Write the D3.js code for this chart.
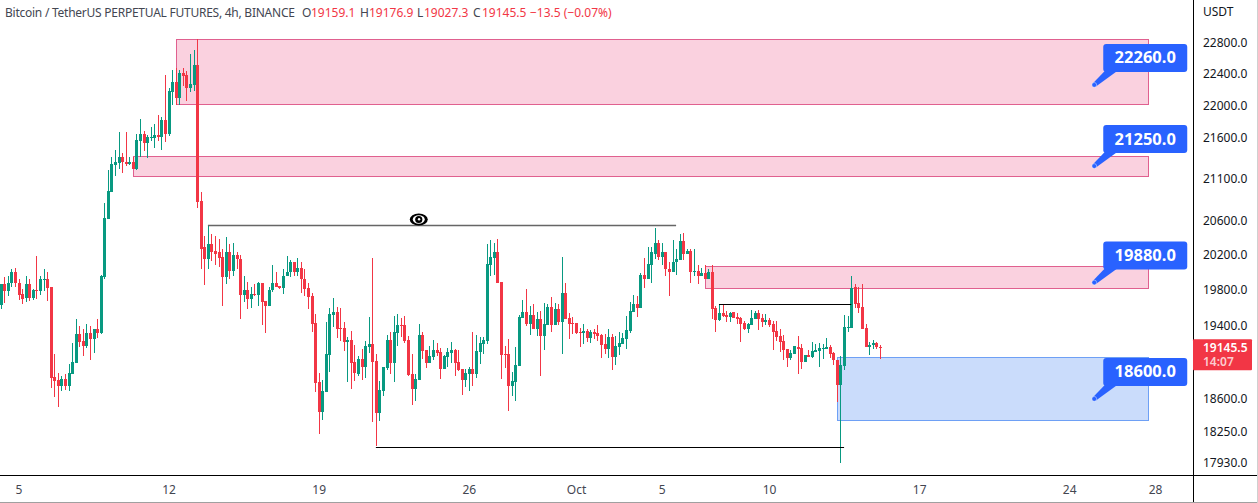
<!DOCTYPE html>
<html><head><meta charset="utf-8">
<script src="https://cdnjs.cloudflare.com/ajax/libs/d3/7.8.5/d3.min.js"></script>
<style>
html,body{margin:0;padding:0;background:#fff;overflow:hidden}
svg{display:block}
text{font-family:"Noto Sans",sans-serif}
</style></head><body>
<svg id="chart" width="1258" height="503"></svg>
<script>
const opens=[19625,19860,19780,19880,20005,19880,19745,19700,19860,19700,19790,19780,19905,19915,19825,18835,18805,18740,18815,18740,18870,18985,19300,19225,19170,19310,19245,19355,19310,19940,20620,20940,21260,21285,21365,21305,21270,21295,21210,21560,21645,21535,21595,21595,21635,21610,21820,21645,22165,22295,22090,22410,22385,22220,22255,22515,20835,20285,20155,20320,20245,20225,20175,19940,20225,20015,20200,20155,19735,19790,19690,19745,19735,19870,19670,19610,19790,19880,19845,19815,19950,19995,20110,19995,20050,19925,19815,19725,19425,18785,18465,18675,19075,19510,19545,19365,19365,19215,19235,18995,18870,19030,18945,19160,19190,19010,18455,18685,18935,19235,18985,19310,19400,19400,19235,18870,18710,18805,19290,19125,18985,19050,19125,19105,18920,19050,19095,19125,18995,18920,18805,18870,18920,18870,19105,19190,19225,20085,20165,20235,19890,19085,19085,18740,18785,18955,19480,19545,19410,19510,19355,19465,19280,19400,19600,19400,19580,19435,19760,19480,19425,19425,19325,19310,19335,19255,19325,19310,19290,19190,19140,19270,19050,19160,19190,19245,19335,19545,19635,19590,19970,19925,20085,20210,20340,20175,20225,20040,19995,20110,20140,20355,20210,20245,20005,20015,19950,19985,19915,19995,19590,19455,19535,19510,19490,19545,19490,19480,19425,19355,19400,19465,19535,19480,19435,19455,19410,19335,19280,19225,19140,19040,19085,19160,19150,19000,19075,19050,19105,19115,19140,19140,19160,19095,19020,18750,18955,19365,19365,19825,19645,19600,19365,19160,19180,19200,19159.1];
const highs=[19860,19938,19960,20030,20050,19915,19805,19950,19915,19805,20190,19950,20030,19995,19825,19085,18880,18845,18870,18975,19200,19465,19390,19355,19410,19390,19355,19465,19970,20810,21200,21365,21450,21670,21405,21670,21365,21365,21645,21830,21680,21635,21730,21770,21880,21855,22385,22220,22450,22475,22450,22475,22440,22655,22710,22850,20940,20420,20540,20435,20420,20385,20260,20400,20320,20330,20225,20200,19950,19890,19835,19860,19890,19870,19670,19835,20075,19995,19845,20030,20190,20140,20120,20165,20110,20030,19880,19760,19525,18880,18805,19435,19590,19700,19600,19590,19435,19270,19335,19180,19060,19140,19225,19490,20165,19085,18795,18945,19290,19325,19500,19525,19480,19500,19280,19085,18870,19410,19325,19125,19170,19235,19200,19150,19075,19150,19215,19140,19125,18920,18920,18945,19325,19290,19270,19270,20320,20375,20340,20385,19890,19170,19245,18890,19160,19510,19680,19805,19610,19635,19545,19555,19645,19635,19715,19645,19635,20175,19880,19535,19490,19425,19365,19410,19355,19345,19355,19400,19300,19300,19355,19300,19280,19325,19310,19500,19655,19735,19725,19985,20165,20285,20285,20505,20365,20340,20235,20110,20365,20260,20445,20455,20260,20260,20270,20075,20050,20075,20030,20075,19610,19635,19635,19555,19545,19545,19535,19490,19445,19425,19565,19555,19565,19525,19525,19480,19445,19445,19355,19290,19140,19125,19170,19280,19190,19075,19125,19215,19190,19200,19190,19255,19180,19105,19020,19060,19510,19500,19960,19860,19825,19860,19410,19215,19235,19215,19176.9];
const lows=[19580,19646,19724,19825,19825,19680,19635,19655,19670,19680,19690,19735,19780,19670,18720,18620,18515,18685,18695,18685,18870,18985,19160,19060,19150,19020,19095,19255,19300,19925,20620,20940,21130,21210,21165,21245,21260,21210,21200,21365,21440,21345,21560,21465,21560,21450,21550,21620,22005,22005,22005,22245,22055,22165,22180,20750,20040,19850,20040,20130,20085,20060,19610,19860,19915,19960,20030,19465,19655,19580,19590,19725,19610,19400,19310,19610,19770,19825,19805,19745,19950,19940,19950,19950,19760,19725,19580,19325,18675,18235,18380,18675,18890,19380,19255,19225,19115,18785,18710,18795,18845,18805,18825,19095,18360,18110,18370,18635,18910,18870,18785,19170,19270,19200,18845,18535,18580,18805,19030,18935,18985,19020,19060,18815,18920,18945,18985,18845,18900,18645,18730,18685,18740,18825,18975,19085,19190,19960,19970,19870,18815,18935,18475,18635,18580,18955,19480,19390,19290,19355,19280,18845,19125,19400,19325,19400,19400,19085,19465,19245,19300,19300,19160,19190,19215,19200,19245,19225,19040,19085,19040,18910,18965,19075,19190,19140,19310,19545,19490,19590,19815,19925,19880,20155,20140,20085,19960,19725,19995,19970,20140,20140,20210,19880,19950,19860,19950,19915,19915,19465,19325,19445,19490,19435,19435,19480,19410,19215,19345,19310,19400,19465,19345,19380,19400,19380,19125,19225,19105,19020,18945,19020,19085,18870,18920,19000,19050,19040,19105,18945,19030,19140,19040,18965,18570,17935,18910,19325,19365,19590,19535,19355,19160,19075,19140,19140,19027.3];
const closes=[19860,19780,19880,20005,19880,19735,19690,19860,19700,19790,19780,19915,19915,19815,18825,18795,18740,18815,18740,18880,19000,19300,19215,19170,19310,19245,19355,19310,19950,20630,20950,21270,21295,21365,21295,21270,21295,21210,21570,21645,21535,21610,21610,21635,21610,21820,21645,22180,22295,22090,22410,22375,22220,22270,22515,20820,20270,20155,20320,20235,20210,20165,19940,20225,20015,20200,20155,19735,19790,19690,19745,19735,19870,19655,19610,19800,19880,19835,19815,19960,20005,20110,19995,20050,19915,19805,19715,19410,18770,18465,18685,19085,19525,19545,19355,19355,19215,19235,18985,18880,19030,18945,19170,19190,19000,18455,18695,18945,19235,18985,19325,19400,19390,19225,18860,18710,18815,19290,19115,18985,19060,19125,19095,18920,19060,19105,19125,18985,18910,18805,18880,18920,18870,19115,19200,19235,20095,20175,20235,19880,19075,19075,18740,18795,18965,19490,19545,19410,19510,19355,19465,19280,19410,19600,19400,19580,19435,19760,19465,19410,19410,19310,19310,19335,19255,19325,19300,19280,19180,19140,19270,19050,19170,19200,19255,19345,19555,19635,19590,19970,19925,20095,20225,20340,20175,20225,20030,19995,20120,20155,20355,20210,20245,20005,20015,19950,19985,19915,19995,19580,19455,19535,19500,19490,19535,19480,19465,19410,19355,19410,19480,19535,19465,19435,19455,19400,19325,19270,19215,19125,19040,19095,19170,19140,19000,19075,19050,19115,19125,19150,19150,19160,19085,19020,18750,18965,19380,19380,19815,19635,19590,19355,19160,19180,19200,19160,19145.5];

const firstBar=Date.UTC(2022,8,4,4);
const barHours=4;
const tickDates=[[2022,8,5],[2022,8,12],[2022,8,19],[2022,8,26],[2022,9,1],[2022,9,5],[2022,9,10],[2022,9,17],[2022,9,24],[2022,9,28]];
const tickLabels=["5","12","19","26","Oct","5","10","17","24","28"];
const priceTicks=[22800,22400,22000,21600,21100,20600,20200,19800,19400,18600,18250,17930];

// zones: first bar, last bar, top price, bottom price
const zoneStart=[49,37,197,234];
const zoneEnd=[321,321,321,321];
const zoneTop=[22846,21367,20074,19052];
const zoneBottom=[22015,21135,19814,18380];
const zoneKind=["supply","supply","supply","demand"];

// horizontal levels: first bar, last bar, price
const levelStart=[58,105,201];
const levelEnd=[189,236,238];
const levelPrice=[20540,18100,19640];
const levelKind=["gray","black","black"];

const calloutPrices=[22260,21250,19880,18600];
const calloutBar=306;

const lastClose=closes[closes.length-1];
const titleText="Bitcoin / TetherUS PERPETUAL FUTURES, 4h, BINANCE";
const headerParts=[["O",302,"#434651"],["19159.1",311,"#f23645"],["H",360,"#434651"],["19176.9",369,"#f23645"],["L",417,"#434651"],["19027.3",424,"#f23645"],["C",473,"#434651"],["19145.5",482,"#f23645"],["\u221213.5 (\u22120.07%)",530,"#f23645"]];

const UP="#089981",DOWN="#f23645";
const W=1258,H=503,paneR=1193,paneB=476;
const svg=d3.select("#chart");

const x=d3.scaleUtc().domain([new Date(Date.UTC(2022,8,5)),new Date(Date.UTC(2022,9,28))]).range([18.5,1155]);
const y=d3.scaleLog().domain([17930,22800]).range([463,43]);
const barX=i=>x(new Date(firstBar+i*barHours*3600e3));

const gZones=svg.append("g");
gZones.selectAll("rect").data(zoneStart).join("rect")
 .attr("x",(d,i)=>Math.round(barX(d))+.5)
 .attr("y",(d,i)=>Math.round(y(zoneTop[i]))+.5)
 .attr("width",(d,i)=>Math.round(barX(zoneEnd[i]))-Math.round(barX(d)))
 .attr("height",(d,i)=>Math.round(y(zoneBottom[i]))-Math.round(y(zoneTop[i])))
 .attr("fill",(d,i)=>zoneKind[i]==="supply"?"#fad1df":"#cadcfb")
 .attr("stroke",(d,i)=>zoneKind[i]==="supply"?"#e0608f":"#6ea0f5")
 .attr("stroke-width",1);

const gCandles=svg.append("g");
const candles=gCandles.selectAll("g").data(opens).join("g")
 .attr("fill",(d,i)=>closes[i]>=d?UP:DOWN);
candles.append("rect")
 .attr("x",(d,i)=>Math.round(barX(i)))
 .attr("y",(d,i)=>Math.round(y(highs[i])))
 .attr("width",1)
 .attr("height",(d,i)=>Math.max(1,Math.round(y(lows[i]))-Math.round(y(highs[i]))));
candles.append("rect")
 .attr("x",(d,i)=>Math.round(barX(i))-1)
 .attr("y",(d,i)=>Math.round(y(Math.max(d,closes[i]))))
 .attr("width",3)
 .attr("height",(d,i)=>Math.max(1,Math.round(y(Math.min(d,closes[i])))-Math.round(y(Math.max(d,closes[i])))));

const gLevels=svg.append("g");
gLevels.selectAll("line").data(levelPrice).join("line")
 .attr("x1",(d,i)=>barX(levelStart[i]))
 .attr("x2",(d,i)=>barX(levelEnd[i]))
 .attr("y1",d=>Math.round(y(d))+.5)
 .attr("y2",d=>Math.round(y(d))+.5)
 .attr("stroke",(d,i)=>levelKind[i]==="gray"?"#666666":"#000")
 .attr("stroke-width",(d,i)=>levelKind[i]==="gray"?1.6:1.2);

// eye marker above the gray level
const eyeX=barX(117),eyeY=y(20610);
svg.append("ellipse").attr("cx",eyeX).attr("cy",eyeY).attr("rx",9).attr("ry",6).attr("fill","#000");
svg.append("ellipse").attr("cx",eyeX).attr("cy",eyeY).attr("rx",6).attr("ry",4.2).attr("fill","#fff");
svg.append("circle").attr("cx",eyeX).attr("cy",eyeY).attr("r",3.6).attr("fill","#000");
svg.append("circle").attr("cx",eyeX+.3).attr("cy",eyeY-.3).attr("r",1.2).attr("fill","#fff");

// callouts
const BLUE="#2962ff";
const callouts=svg.append("g").selectAll("g").data(calloutPrices).join("g")
 .attr("transform",d=>`translate(${barX(calloutBar)},${y(d)})`);
callouts.append("path").attr("d","M10.5,-14 L23,-14 L1,2 L-2,-1 Z").attr("fill",BLUE);
callouts.append("circle").attr("r",2.4).attr("fill",BLUE).attr("stroke","#ffffff").attr("stroke-opacity",.55).attr("stroke-width",.8);
callouts.append("rect").attr("x",9).attr("y",-41).attr("width",84).attr("height",28).attr("rx",3).attr("fill",BLUE);
callouts.append("text").attr("x",51).attr("y",-21.5).attr("text-anchor","middle").attr("fill","#fff")
 .attr("font-size",16.5).attr("font-weight",700).text(d=>d3.format(".1f")(d));

// axes
const xAxis=d3.axisBottom(x).tickValues(tickDates.map(d=>new Date(Date.UTC(...d)))).tickFormat((d,i)=>tickLabels[i]).tickSize(0).tickPadding(0);
const gx=svg.append("g").attr("transform",`translate(0,${paneB})`).call(xAxis);
gx.select(".domain").remove();
gx.selectAll("text").attr("y",0).attr("dy","17.5px").attr("fill","#434651").attr("font-size",12).attr("font-family",'"Noto Sans",sans-serif');

const yAxis=d3.axisRight(y).tickValues(priceTicks).tickFormat(d3.format(".1f")).tickSize(0).tickPadding(0);
const gy=svg.append("g").attr("transform",`translate(1203,0)`).call(yAxis);
gy.select(".domain").remove();
gy.selectAll("text").attr("fill","#131722").attr("font-size",12).attr("font-family",'"Noto Sans",sans-serif');

svg.append("text").attr("x",1203).attr("y",16).attr("fill","#131722").attr("font-size",12).text("USDT");

// frame lines
svg.append("line").attr("x1",0).attr("x2",W).attr("y1",paneB-.5).attr("y2",paneB-.5).attr("stroke","#000").attr("stroke-width",1);
svg.append("line").attr("x1",paneR+.5).attr("x2",paneR+.5).attr("y1",0).attr("y2",H).attr("stroke","#000").attr("stroke-width",1);
svg.append("line").attr("x1",0).attr("x2",W).attr("y1",H-.5).attr("y2",H-.5).attr("stroke","#a0a0a0");
svg.append("line").attr("x1",W-.5).attr("x2",W-.5).attr("y1",0).attr("y2",H).attr("stroke","#d0d0d0");

// last price tag: two lines of one text element
const tagY=y(lastClose);
svg.append("rect").attr("x",paneR).attr("y",tagY-9).attr("width",59).attr("height",31).attr("rx",1).attr("fill",DOWN);
const tag=svg.append("text").attr("y",tagY+4).attr("fill","#fff").attr("font-size",12).attr("font-weight",600);
tag.append("tspan").attr("x",1203).text(d3.format(".1f")(lastClose));
tag.append("tspan").attr("x",1203).attr("dy",14).attr("fill-opacity",.75).text("14:07");

// header
svg.append("text").attr("x",5).attr("y",17).attr("fill","#434651").attr("font-size",12).attr("letter-spacing","-0.25px").text(titleText);
svg.append("g").selectAll("text").data(headerParts).join("text")
 .attr("x",d=>d[1]).attr("y",17).attr("fill",d=>d[2]).attr("font-size",12).text(d=>d[0]);
</script>
</body></html>
